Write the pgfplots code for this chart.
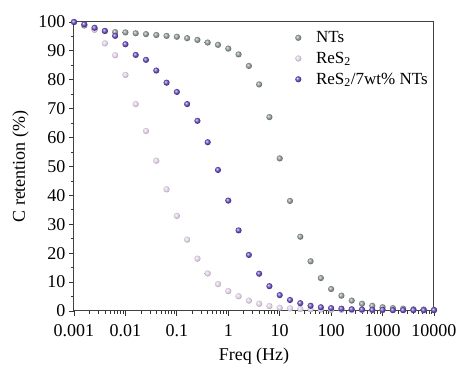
\documentclass[border=0pt]{standalone}
\usepackage{pgfplots}
\pgfplotsset{compat=1.18}
\usepackage{pgfplotstable}
\usepackage{fontspec}
\setmainfont{Liberation Serif}
\definecolor{cNT}{HTML}{808A86}
\definecolor{cRe}{HTML}{DCCCE2}
\definecolor{cCo}{HTML}{5A3FAA}
\makeatletter
\pgfdeclareradialshading[tikz@ball]{ball}{\pgfqpoint{-10bp}{10bp}}{color(0bp)=(tikz@ball!10!white); color(8bp)=(tikz@ball!60!white); color(18bp)=(tikz@ball); color(25bp)=(tikz@ball!75!black); color(50bp)=(tikz@ball!75!black)}
\makeatother
\pgfplotstableread{
f NT Re Co
0.001 100 100 100
0.001585 98.8 99.0 99.2
0.002512 97.5 97.3 98.0
0.003981 96.9 92.6 96.9
0.00631 96.5 88.5 95.2
0.01 96.4 81.7 92.3
0.01585 96.1 71.6 88.6
0.02512 95.8 62.3 86.9
0.03981 95.5 52.0 83.2
0.0631 95.2 42.1 79.0
0.1 94.9 32.9 75.8
0.1585 94.4 24.7 71.6
0.2512 93.8 18.1 65.8
0.3981 92.9 13.0 58.4
0.631 92.1 9.3 48.8
1 90.8 6.9 38.2
1.585 88.8 5.1 27.9
2.512 84.8 3.6 19.4
3.981 78.4 2.5 12.9
6.31 67.1 1.7 8.6
10 52.8 1.1 5.5
15.85 38.1 0.9 3.8
25.12 25.7 0.7 2.7
39.81 17.2 0.6 1.8
63.1 11.4 0.5 1.3
100 7.6 0.4 1.0
158.5 5.3 0.4 0.8
251.2 3.6 0.3 0.6
398.1 2.5 0.3 0.5
631 1.8 0.3 0.4
1000 1.3 0.3 0.4
1585 1.0 0.3 0.3
2512 0.8 0.3 0.3
3981 0.6 0.3 0.3
6310 0.5 0.3 0.3
10000 0.4 0.3 0.3
}\data
\begin{document}
\begin{tikzpicture}
\useasboundingbox (-74pt,-56pt) rectangle (385pt,311pt);
\begin{axis}[
  at={(0,0)}, anchor=south west,
  scale only axis, width=360pt, height=289pt,
  xmode=log, xmin=0.001, xmax=10000, ymin=0, ymax=100,
  xtick={0.001,0.01,0.1,1,10,100,1000,10000},
  xticklabels={0.001,0.01,0.1,1,10,100,1000,10000},
  ytick={0,10,...,100}, minor ytick={5,15,...,95},
  xtick pos=bottom, ytick pos=left,
  tick align=outside, major tick length=5pt, minor tick length=3pt,
  tick style={black!80, line width=0.8pt},
  axis line style={black!75, line width=1pt},
  font=\fontsize{18}{21}\selectfont,
  /pgf/number format/assume math mode=true,
  xticklabel style={yshift=-5pt},
  xlabel={Freq (Hz)}, ylabel={C retention (\%)},
  xlabel style={yshift=-4pt},
  ylabel style={yshift=3pt},
  clip=false,
  legend cell align=left,
  legend style={at={(axis description cs:0.605,0.98)}, anchor=north west, draw=none, fill=none, font=\fontsize{17}{20}\selectfont, nodes={inner sep=1.5pt}, row sep=5pt, /tikz/every odd column/.append style={column sep=13pt}},
]
\addplot[only marks, mark=ball, mark size=3.1pt, ball color=cNT, mark options={draw opacity=0}] table[x=f,y=NT]{\data};
\addlegendentry{NTs}
\addplot[only marks, mark=ball, mark size=3.1pt, ball color=cRe, mark options={draw opacity=0}] table[x=f,y=Re]{\data};
\addlegendentry{ReS\textsubscript{2}}
\addplot[only marks, mark=ball, mark size=3.1pt, ball color=cCo, mark options={draw opacity=0}] table[x=f,y=Co]{\data};
\addlegendentry{ReS\textsubscript{2}/7wt\% NTs}
\end{axis}
\end{tikzpicture}
\end{document}
